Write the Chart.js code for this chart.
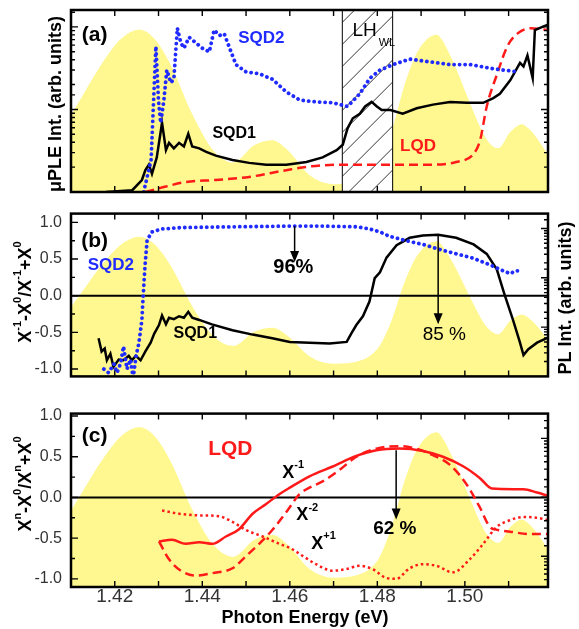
<!DOCTYPE html>
<html>
<head>
<meta charset="utf-8">
<title>PLE and charge ratio</title>
<script src="https://cdn.jsdelivr.net/npm/chart.js@4.4.1/dist/chart.umd.min.js"></script>
<style>
  body { margin: 0; background: #fff; }
  #wrap { position: relative; width: 579px; height: 629px; }
  #wrap canvas { position: absolute; left: 0; }
</style>
</head>
<body>
<div id="wrap">
  <canvas id="panelA" width="579" height="200" style="top:0px"></canvas>
  <canvas id="panelB" width="579" height="200" style="top:195px"></canvas>
  <canvas id="panelC" width="579" height="234" style="top:395px"></canvas>
</div>
<script>
const FONT = "'Liberation Sans', Arial, Helvetica, sans-serif";
const YELLOW = "#fff78f";
const RED = "#ff1a1a";
const BLUE = "#1f2bff";

// axes
const xTicks = [1.42, 1.44, 1.46, 1.48, 1.50];
const xTickMarks = [1.42, 1.43, 1.44, 1.45, 1.46, 1.47, 1.48, 1.49, 1.50, 1.51];
const yTicks = [-1.0, -0.5, 0.0, 0.5, 1.0];
const yMinorTicks = [-0.75, -0.25, 0.25, 0.75];

// PL spectrum (yellow background)
const plE = [1.4096, 1.4125, 1.4164, 1.4210, 1.4256, 1.4295, 1.4332, 1.4378, 1.4424, 1.4470, 1.4516,
  1.4562, 1.4600, 1.4646, 1.4700, 1.4753, 1.4800, 1.4830, 1.4860, 1.4890, 1.4936, 1.4973, 1.5010,
  1.5050, 1.5076, 1.5100, 1.5130, 1.5157, 1.5190];
const plV = [-0.16, 0.08, 0.40, 0.70, 0.82, 0.70, 0.40, -0.12, -0.52, -0.67, -0.48,
  -0.42, -0.55, -0.81, -0.91, -0.88, -0.70, -0.33, 0.20, 0.57, 0.76, 0.48, 0.04,
  -0.40, -0.51, -0.34, -0.24, -0.34, -0.57];

// (a) PLE spectra, arb. units
const sqd2aE = [1.4266, 1.4283, 1.4294, 1.4300, 1.4305, 1.4312, 1.4319, 1.4328, 1.4335, 1.4343, 1.4351,
  1.4358, 1.4370, 1.4385, 1.4400, 1.4416, 1.4427, 1.4439, 1.4450, 1.4461, 1.4477, 1.4500, 1.4530,
  1.4560, 1.4592, 1.4623, 1.4660, 1.4698, 1.4732, 1.4760, 1.4783, 1.4806, 1.4836, 1.4874, 1.4920,
  1.4966, 1.5012, 1.5058, 1.5088, 1.5122];
const sqd2aV = [0, 17.6, 80, 50, 38, 50, 67, 60, 62, 90, 82,
  79, 85, 82, 79, 77, 89, 86, 87, 80, 70, 66, 65,
  62, 55, 50.5, 49.5, 49, 47, 54, 62.5, 67, 70, 73, 71.5,
  70, 70, 68, 67, 66];
const sqd1aE = [1.4180, 1.4240, 1.4262, 1.4270, 1.4278, 1.4285, 1.4296, 1.4308, 1.4317, 1.4324, 1.4335,
  1.4347, 1.4358, 1.4368, 1.4377, 1.4393, 1.4409, 1.4431, 1.4469, 1.4507, 1.4546, 1.4592, 1.4638,
  1.4675, 1.4707, 1.4721, 1.4732, 1.4744, 1.4760, 1.4772, 1.4787, 1.4799, 1.4810, 1.4830, 1.4858,
  1.4890, 1.4927, 1.4966, 1.5005, 1.5042, 1.5065, 1.5080, 1.5104, 1.5126, 1.5134, 1.5143, 1.5155,
  1.5160, 1.5180, 1.5190];
const sqd1aV = [0, 1, 6.6, 12, 15, 10, 19, 38, 23, 27, 24,
  27, 25, 32, 25, 24, 22, 20, 17.6, 16, 15, 15, 16.5,
  19, 23, 26, 35, 40.5, 43, 47, 49.5, 47, 45, 45, 43,
  46, 48, 49.5, 49, 49, 51.6, 54, 61.5, 71, 69, 75, 62.6,
  89, 91, 92];
const lqdaE = [1.4270, 1.4317, 1.4363, 1.4430, 1.4507, 1.4592, 1.4645, 1.4714, 1.4828, 1.4920,
  1.4980, 1.5020, 1.5035, 1.5050, 1.5074, 1.5097, 1.5120, 1.5150, 1.5190];
const lqdaV = [0, 3, 5.5, 6.6, 8.3, 12, 14, 15, 15, 15,
  16.5, 21, 28.6, 47, 65, 80, 87, 90, 89];

// (b) (X-1 - X0)/(X-1 + X0)
const sqd2bE = [1.4175, 1.4186, 1.4198, 1.4205, 1.4213, 1.4220, 1.4228, 1.4236, 1.4242, 1.4249, 1.4255,
  1.4262, 1.4265, 1.4269, 1.4274, 1.4285, 1.4308, 1.4354, 1.4469, 1.4600, 1.4675, 1.4753, 1.4782,
  1.4806, 1.4828, 1.4866, 1.4904, 1.4943, 1.4981, 1.5020, 1.5058, 1.5080, 1.5104, 1.5115, 1.5126];
const sqd2bV = [-1.0, -1.05, -0.93, -1.05, -0.93, -0.69, -1.0, -0.87, -1.12, -0.81, -0.65,
  -0.33, 0, 0.4, 0.76, 0.87, 0.91, 0.93, 0.94, 0.95, 0.95, 0.94, 0.91,
  0.87, 0.81, 0.75, 0.7, 0.63, 0.57, 0.51, 0.42, 0.36, 0.3, 0.34, 0.34];
const sqd1bE = [1.4163, 1.4170, 1.4177, 1.4182, 1.4190, 1.4197, 1.4209, 1.4220, 1.4232, 1.4239, 1.4248,
  1.4259, 1.4270, 1.4282, 1.4290, 1.4301, 1.4308, 1.4317, 1.4324, 1.4335, 1.4347, 1.4358, 1.4368,
  1.4377, 1.4393, 1.4422, 1.4469, 1.4515, 1.4560, 1.4600, 1.4645, 1.4691, 1.4730, 1.4741, 1.4752,
  1.4767, 1.4782, 1.4794, 1.4806, 1.4821, 1.4844, 1.4874, 1.4904, 1.4939, 1.4980, 1.5020, 1.5050,
  1.5073, 1.5090, 1.5110, 1.5126, 1.5134, 1.5145, 1.5165, 1.5190];
const sqd1bV = [-0.58, -0.76, -0.72, -0.88, -0.79, -0.97, -0.87, -0.88, -0.82, -0.88, -0.82,
  -0.88, -0.76, -0.64, -0.52, -0.4, -0.27, -0.39, -0.3, -0.32, -0.28, -0.3, -0.22,
  -0.3, -0.33, -0.39, -0.47, -0.53, -0.58, -0.63, -0.64, -0.65, -0.63, -0.51, -0.4,
  -0.28, -0.08, 0.24, 0.32, 0.52, 0.69, 0.79, 0.82, 0.83, 0.79, 0.7, 0.57,
  0.36, 0.03, -0.33, -0.64, -0.81, -0.73, -0.64, -0.57];

// (c) LQD, (Xn - X0)/(Xn + X0)
const xm1E = [1.4301, 1.4331, 1.4362, 1.4393, 1.4423, 1.4454, 1.4484, 1.4515, 1.4546, 1.4576, 1.4600,
  1.4645, 1.4698, 1.4752, 1.4798, 1.4851, 1.4904, 1.4950, 1.4997, 1.5034, 1.5062, 1.5134, 1.5165, 1.5190];
const xm1V = [-0.54, -0.52, -0.57, -0.55, -0.57, -0.48, -0.39, -0.2, -0.08, 0.04, 0.12,
  0.26, 0.38, 0.51, 0.58, 0.6, 0.57, 0.5, 0.38, 0.24, 0.11, 0.1, 0.06, 0.02];
const xm2E = [1.4301, 1.4324, 1.4351, 1.4385, 1.4423, 1.4469, 1.4500, 1.4530, 1.4560, 1.4592, 1.4600,
  1.4622, 1.4645, 1.4676, 1.4714, 1.4752, 1.4798, 1.4851, 1.4889, 1.4927, 1.4966, 1.5004, 1.5034,
  1.5057, 1.5076, 1.5103, 1.5149, 1.5190];
const xm2V = [-0.54, -0.76, -0.9, -0.96, -0.93, -0.87, -0.72, -0.57, -0.4, -0.18, -0.12,
  0.04, 0.12, 0.2, 0.34, 0.5, 0.6, 0.63, 0.6, 0.52, 0.4, 0.16, -0.12,
  -0.36, -0.4, -0.42, -0.45, -0.45];
const xp1E = [1.4308, 1.4347, 1.4393, 1.4438, 1.4469, 1.4500, 1.4538, 1.4576, 1.4600, 1.4630, 1.4660,
  1.4698, 1.4729, 1.4759, 1.4789, 1.4821, 1.4843, 1.4874, 1.4904, 1.4935, 1.4973, 1.5011, 1.5042,
  1.5073, 1.5103, 1.5134, 1.5165, 1.5190];
const xp1V = [-0.16, -0.2, -0.22, -0.23, -0.3, -0.4, -0.48, -0.57, -0.62, -0.72, -0.82,
  -0.9, -0.88, -0.84, -0.88, -0.99, -1.0, -0.87, -0.82, -0.84, -0.92, -0.76, -0.57,
  -0.36, -0.28, -0.24, -0.25, -0.28];

const pts = (xs, ys) => xs.map((x, i) => ({ x: x, y: ys[i] }));

function plSet() {
  return {
    data: pts(plE, plV), yAxisID: "pl", borderColor: "#ffffff", borderWidth: 2.5,
    backgroundColor: YELLOW, fill: "start", cubicInterpolationMode: "monotone", pointRadius: 0
  };
}

function curve(xs, ys, color, dash, smooth) {
  const ds = {
    data: pts(xs, ys), yAxisID: "y", borderColor: color, borderWidth: 2.5,
    borderDash: dash, fill: false, pointRadius: 0
  };
  if (smooth) ds.cubicInterpolationMode = "monotone";
  return ds;
}

function blueDots(xs, ys) {
  return {
    data: pts(xs, ys), yAxisID: "y", borderColor: BLUE, borderWidth: 3.8,
    borderDash: [0.1, 5.4], borderCapStyle: "round", fill: false, pointRadius: 0
  };
}

const isDecade = v => Math.abs(Math.log10(v) - Math.round(Math.log10(v))) < 1e-6;

function richWidth(ctx, parts, size) {
  let w = 0;
  parts.forEach(([t, sup]) => {
    ctx.font = "bold " + (sup ? Math.round(size * 0.62) : size) + "px " + FONT;
    w += ctx.measureText(t).width;
  });
  return w;
}

function drawRich(ctx, parts, x, y, size, rot, align) {
  ctx.save();
  ctx.translate(x, y);
  if (rot) ctx.rotate(-Math.PI / 2);
  ctx.fillStyle = "#000";
  ctx.textBaseline = "middle";
  ctx.textAlign = "left";
  let cx = align === "left" ? 0 : -richWidth(ctx, parts, size) / 2;
  parts.forEach(([t, sup]) => {
    ctx.font = "bold " + (sup ? Math.round(size * 0.62) : size) + "px " + FONT;
    ctx.fillText(t, cx, sup ? -size * 0.42 : 0);
    cx += ctx.measureText(t).width;
  });
  ctx.restore();
}

function decor(p) {
  return {
    id: "decor",
    afterDatasetDraw(chart, args) {
      if (args.index !== chart.data.datasets.length - 1) return;
      const { ctx, chartArea: a, scales } = chart;
      if (p.hatch) {
        const x0 = scales.x.getPixelForValue(p.hatch[0]);
        const x1 = scales.x.getPixelForValue(p.hatch[1]);
        const w = x1 - x0;
        ctx.save();
        ctx.fillStyle = "#fff";
        ctx.fillRect(x0, a.top, w, a.height);
        ctx.beginPath();
        ctx.rect(x0, a.top, w, a.height);
        ctx.clip();
        ctx.strokeStyle = "#000";
        ctx.lineWidth = 0.8;
        ctx.beginPath();
        for (let yy = a.bottom + w; yy > a.top - 5; yy -= 22) {
          ctx.moveTo(x0, yy);
          ctx.lineTo(x1, yy - w);
        }
        ctx.stroke();
        ctx.restore();
        ctx.save();
        ctx.strokeStyle = "#000";
        ctx.lineWidth = 1;
        ctx.beginPath();
        ctx.moveTo(x0, a.top); ctx.lineTo(x0, a.bottom);
        ctx.moveTo(x1, a.top); ctx.lineTo(x1, a.bottom);
        ctx.stroke();
        ctx.restore();
      }
      if (p.zero) {
        const y0 = scales.y.getPixelForValue(0);
        ctx.save();
        ctx.strokeStyle = "#000";
        ctx.lineWidth = 2;
        ctx.beginPath();
        ctx.moveTo(a.left, y0); ctx.lineTo(a.right, y0);
        ctx.stroke();
        ctx.restore();
      }
    },
    afterDraw(chart) {
      const { ctx, chartArea: a, scales } = chart;
      const x = scales.x, y = scales.y, lg = scales.lg;
      ctx.save();
      // inward tick marks
      ctx.strokeStyle = "#000";
      ctx.lineWidth = 1.4;
      ctx.beginPath();
      xTickMarks.forEach(e => {
        const px = x.getPixelForValue(e);
        ctx.moveTo(px, a.top); ctx.lineTo(px, a.top + 6);
        ctx.moveTo(px, a.bottom); ctx.lineTo(px, a.bottom - 6);
      });
      lg.ticks.forEach(t => {
        const py = lg.getPixelForValue(t.value);
        if (py < a.top + 2 || py > a.bottom - 2) return;
        const len = isDecade(t.value) ? 7 : 4;
        ctx.moveTo(a.right, py); ctx.lineTo(a.right - len, py);
        if (p.logLeft) { ctx.moveTo(a.left, py); ctx.lineTo(a.left + len, py); }
      });
      if (!p.logLeft) {
        yTicks.forEach(v => {
          const py = y.getPixelForValue(v);
          ctx.moveTo(a.left, py); ctx.lineTo(a.left + 7, py);
        });
        yMinorTicks.forEach(v => {
          const py = y.getPixelForValue(v);
          ctx.moveTo(a.left, py); ctx.lineTo(a.left + 4, py);
        });
      }
      ctx.stroke();
      // frame
      ctx.lineWidth = 2.5;
      ctx.strokeRect(a.left, a.top, a.right - a.left, a.bottom - a.top);
      // arrows
      (p.arrows || []).forEach(ar => {
        const px = x.getPixelForValue(ar.e);
        const y0 = y.getPixelForValue(ar.from), y1 = y.getPixelForValue(ar.to);
        ctx.lineWidth = 1.5;
        ctx.fillStyle = "#000";
        ctx.beginPath(); ctx.moveTo(px, y0); ctx.lineTo(px, y1 - 8); ctx.stroke();
        ctx.beginPath();
        ctx.moveTo(px - 4.5, y1 - 11); ctx.lineTo(px + 4.5, y1 - 11); ctx.lineTo(px, y1);
        ctx.closePath(); ctx.fill();
      });
      // text in data coordinates
      (p.notes || []).forEach(n => {
        const px = x.getPixelForValue(n.e), py = y.getPixelForValue(n.v);
        if (n.rich) { drawRich(ctx, n.rich, px, py, n.size, false, "left"); return; }
        ctx.font = (n.bold ? "bold " : "") + n.size + "px " + FONT;
        ctx.fillStyle = n.color || "#000";
        ctx.textAlign = "center";
        ctx.textBaseline = "middle";
        ctx.fillText(n.t, px, py);
      });
      // axis titles in canvas pixels
      (p.titles || []).forEach(t => {
        if (t.rich) { drawRich(ctx, t.rich, t.x, t.y, t.size, t.rot); return; }
        ctx.save();
        ctx.translate(t.x, t.y);
        if (t.rot) ctx.rotate(-Math.PI / 2);
        ctx.font = "bold " + t.size + "px " + FONT;
        ctx.fillStyle = "#000";
        ctx.textAlign = "center";
        ctx.textBaseline = "middle";
        ctx.fillText(t.t, 0, 0);
        ctx.restore();
      });
      ctx.restore();
    }
  };
}

function panel(id, p) {
  const hidden = { display: false, drawTicks: false };
  return new Chart(document.getElementById(id), {
    type: "line",
    data: { datasets: p.datasets },
    options: {
      responsive: false,
      animation: false,
      devicePixelRatio: 1,
      layout: { padding: { top: p.padTop, bottom: p.padBottom, left: 0, right: 0 } },
      plugins: { legend: { display: false }, tooltip: { enabled: false } },
      scales: {
        x: {
          type: "linear", min: 1.41, max: 1.519,
          afterBuildTicks: s => { s.ticks = xTicks.map(v => ({ value: v })); },
          grid: hidden, border: { display: false },
          ticks: {
            display: p.xLabels, autoSkip: false, maxRotation: 0, padding: -2, color: "#333",
            font: { family: FONT, size: 19 }, callback: v => v.toFixed(2)
          },
          afterFit: s => { s.height = p.xHeight; }
        },
        y: {
          type: "linear", position: "left", min: p.yMin, max: p.yMax,
          afterBuildTicks: s => { s.ticks = yTicks.map(v => ({ value: v })); },
          grid: hidden, border: { display: false },
          ticks: {
            display: p.yLabels, autoSkip: false, padding: 9, color: "#333",
            font: { family: FONT, size: 16 }, callback: v => v.toFixed(1)
          },
          afterFit: s => { s.width = 71; }
        },
        pl: {
          type: "linear", position: "right", min: p.plMin, max: p.plMax,
          grid: hidden, border: { display: false }, ticks: { display: false },
          afterFit: s => { s.width = 0; }
        },
        lg: {
          type: "logarithmic", position: "right", min: p.logMin, max: p.logMax,
          grid: hidden, border: { display: false }, ticks: { display: false },
          afterFit: s => { s.width = 31; }
        }
      }
    },
    plugins: [decor(p)]
  });
}

panel("panelA", {
  padTop: 10, padBottom: 8, xHeight: 0, xLabels: false, yLabels: false,
  yMin: 0, yMax: 100, plMin: -1.012, plMax: 1.023, logMin: 10, logMax: 1600, logLeft: true,
  hatch: [1.472, 1.4835],
  datasets: [
    blueDots(sqd2aE, sqd2aV),
    curve(sqd1aE, sqd1aV, "#000", [], false),
    curve(lqdaE, lqdaV, RED, [9, 5], true),
    plSet()
  ],
  notes: [
    { t: "(a)", e: 1.4154, v: 86, size: 21, bold: true },
    { t: "SQD2", e: 1.4535, v: 84.6, size: 17, bold: true, color: BLUE },
    { t: "SQD1", e: 1.4473, v: 32, size: 16, bold: true },
    { t: "LQD", e: 1.4893, v: 25.3, size: 17, bold: true, color: RED },
    { t: "LH", e: 1.4771, v: 88.5, size: 19 },
    { t: "WL", e: 1.4822, v: 82, size: 11 }
  ],
  titles: [
    { t: "\u03bcPLE Int. (arb. units)", x: 56, y: 104, size: 18, rot: true }
  ]
});

panel("panelB", {
  padTop: 10, padBottom: 7, xHeight: 0, xLabels: false, yLabels: true,
  yMin: -1.1, yMax: 1.12, plMin: -1.1, plMax: 1.12, logMin: 1, logMax: 2000, zero: true,
  datasets: [
    blueDots(sqd2bE, sqd2bV),
    curve(sqd1bE, sqd1bV, "#000", [], false),
    plSet()
  ],
  arrows: [
    { e: 1.4611, from: 0.95, to: 0.46 },
    { e: 1.4939, from: 0.83, to: -0.39 }
  ],
  notes: [
    { t: "(b)", e: 1.4154, v: 0.74, size: 21, bold: true },
    { t: "SQD2", e: 1.4191, v: 0.42, size: 17, bold: true, color: BLUE },
    { t: "SQD1", e: 1.4384, v: -0.52, size: 16, bold: true },
    { t: "96%", e: 1.4608, v: 0.38, size: 20, bold: true },
    { t: "85 %", e: 1.4953, v: -0.53, size: 19 }
  ],
  titles: [
    { rich: [["X", 0], ["-1", 1], ["-X", 0], ["0", 1], ["/X", 0], ["-1", 1], ["+X", 0], ["0", 1]],
      x: 26, y: 97, size: 18, rot: true },
    { t: "PL Int. (arb. units)", x: 566, y: 103, size: 18, rot: true }
  ]
});

panel("panelC", {
  padTop: 15, padBottom: 0, xHeight: 42, xLabels: true, yLabels: true,
  yMin: -1.1, yMax: 1.03, plMin: -1.03, plMax: 0.96, logMin: 0.3, logMax: 263, zero: true,
  datasets: [
    curve(xm1E, xm1V, RED, [], true),
    curve(xm2E, xm2V, RED, [9, 5], true),
    curve(xp1E, xp1V, RED, [2.5, 3], true),
    plSet()
  ],
  arrows: [
    { e: 1.4843, from: 0.58, to: -0.27 }
  ],
  notes: [
    { t: "(c)", e: 1.4154, v: 0.75, size: 21, bold: true },
    { t: "LQD", e: 1.4464, v: 0.59, size: 21, bold: true, color: RED },
    { rich: [["X", 0], ["-1", 1]], e: 1.4583, v: 0.30, size: 18 },
    { rich: [["X", 0], ["-2", 1]], e: 1.4615, v: -0.22, size: 18 },
    { rich: [["X", 0], ["+1", 1]], e: 1.4649, v: -0.57, size: 18 },
    { t: "62 %", e: 1.4840, v: -0.39, size: 19, bold: true }
  ],
  titles: [
    { rich: [["X", 0], ["n", 1], ["-X", 0], ["0", 1], ["/X", 0], ["n", 1], ["+X", 0], ["0", 1]],
      x: 26, y: 89, size: 18, rot: true },
    { t: "Photon Energy (eV)", x: 305, y: 223, size: 18 }
  ]
});
</script>
</body>
</html>
